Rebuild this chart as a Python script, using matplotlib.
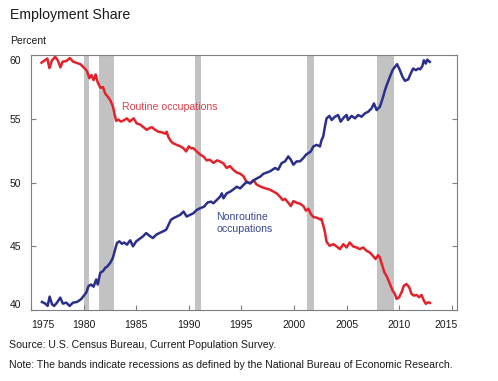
import numpy as np
import matplotlib
matplotlib.use("Agg")
import matplotlib.pyplot as plt
from matplotlib.transforms import ScaledTranslation

plt.rcParams["font.family"] = ["Liberation Sans", "DejaVu Sans"]

# =========================
# data (percent of employment)
# =========================
routine_years = [
    1976.0, 1976.3, 1976.55, 1976.75, 1977.0, 1977.3, 1977.55, 1977.8, 1978.0, 1978.35,
    1978.7, 1979.0, 1979.35, 1979.7, 1980.0, 1980.3, 1980.55, 1980.75, 1980.95, 1981.15,
    1981.35, 1981.6, 1981.85, 1982.05, 1982.3, 1982.55, 1982.8, 1982.95, 1983.1, 1983.3,
    1983.55, 1983.85, 1984.1, 1984.4, 1984.75, 1985.05, 1985.4, 1985.7, 1986.0, 1986.3,
    1986.5, 1986.8, 1987.1, 1987.45, 1987.75, 1987.9, 1988.05, 1988.3, 1988.5, 1988.9,
    1989.2, 1989.5, 1989.75, 1990.0, 1990.2, 1990.45, 1990.75, 1991.1, 1991.4, 1991.7,
    1992.0, 1992.35, 1992.7, 1993.0, 1993.3, 1993.6, 1993.9, 1994.25, 1994.55, 1994.9,
    1995.2, 1995.5, 1995.85, 1996.15, 1996.45, 1996.8, 1997.1, 1997.7, 1998.05, 1998.36,
    1998.67, 1998.93, 1999.15, 1999.46, 1999.7, 1999.94, 2000.26, 2000.57, 2000.9, 2001.14,
    2001.37, 2001.6, 2001.84, 2002.16, 2002.47, 2002.6, 2002.8, 2002.95, 2003.1, 2003.4,
    2003.74, 2004.06, 2004.37, 2004.7, 2005.0, 2005.3, 2005.63, 2005.95, 2006.27, 2006.58,
    2006.9, 2007.2, 2007.5, 2007.75, 2008.0, 2008.16, 2008.4, 2008.6, 2008.87, 2009.12,
    2009.38, 2009.6, 2009.76, 2010.0, 2010.23, 2010.45, 2010.7, 2010.96, 2011.18, 2011.4,
    2011.66, 2011.9, 2012.13, 2012.35, 2012.54, 2012.76, 2012.92,
]
routine_share = [
    59.42, 59.6, 59.75, 59.0, 59.6, 59.88, 59.6, 59.05, 59.5, 59.55,
    59.78, 59.5, 59.4, 59.3, 59.05, 58.8, 58.2, 58.45, 58.05, 58.5,
    57.85, 57.45, 57.5, 57.0, 56.75, 56.45, 55.95, 55.35, 54.85, 54.95,
    54.8, 54.9, 55.05, 54.8, 55.05, 54.65, 54.55, 54.35, 54.15, 54.3,
    54.35, 54.15, 54.0, 53.95, 53.85, 54.0, 53.6, 53.25, 53.1, 52.95,
    52.85, 52.7, 52.45, 52.85, 52.7, 52.7, 52.45, 52.2, 52.05, 51.75,
    51.8, 51.55, 51.75, 51.65, 51.5, 51.15, 51.3, 51.0, 50.8, 50.7,
    50.5, 50.05, 49.95, 50.2, 49.85, 49.7, 49.6, 49.45, 49.3, 49.15,
    48.9, 48.63, 48.73, 48.42, 48.16, 48.55, 48.42, 48.35, 48.16, 47.8,
    47.95, 47.55, 47.3, 47.25, 47.12, 47.17, 46.6, 46.08, 45.35, 45.04,
    45.17, 44.99, 44.78, 45.17, 44.91, 45.3, 44.99, 44.91, 44.78, 44.91,
    44.65, 44.52, 44.26, 44.0, 44.3, 44.13, 43.47, 42.95, 42.56, 42.04,
    41.52, 41.26, 40.87, 41.0, 41.4, 41.91, 42.04, 41.78, 41.26, 41.13,
    41.18, 41.0, 41.18, 40.74, 40.48, 40.61, 40.56,
]

nonroutine_years = [
    1976.04, 1976.36, 1976.58, 1976.77, 1977.0, 1977.2, 1977.47, 1977.78, 1978.03, 1978.35,
    1978.67, 1979.0, 1979.37, 1979.75, 1980.0, 1980.25, 1980.47, 1980.7, 1980.95, 1981.2,
    1981.35, 1981.58, 1981.84, 1982.06, 1982.28, 1982.53, 1982.78, 1983.0, 1983.17, 1983.4,
    1983.64, 1983.86, 1984.12, 1984.43, 1984.7, 1985.0, 1985.3, 1985.64, 1985.95, 1986.26,
    1986.59, 1986.9, 1987.2, 1987.54, 1987.85, 1988.07, 1988.3, 1988.54, 1988.87, 1989.18,
    1989.5, 1989.8, 1990.13, 1990.44, 1990.76, 1991.08, 1991.46, 1991.77, 1992.1, 1992.34,
    1992.66, 1992.98, 1993.14, 1993.3, 1993.6, 1993.93, 1994.24, 1994.56, 1994.88, 1995.2,
    1995.51, 1995.83, 1996.14, 1996.46, 1996.78, 1997.1, 1997.73, 1998.2, 1998.5, 1998.83,
    1999.15, 1999.46, 1999.7, 1999.94, 2000.26, 2000.57, 2000.89, 2001.14, 2001.37, 2001.6,
    2001.84, 2002.16, 2002.47, 2002.63, 2002.78, 2002.94, 2003.1, 2003.37, 2003.58, 2003.9,
    2004.2, 2004.44, 2004.75, 2005.0, 2005.14, 2005.48, 2005.8, 2006.1, 2006.43, 2006.75,
    2007.06, 2007.38, 2007.6, 2007.86, 2008.17, 2008.43, 2008.65, 2008.87, 2009.12, 2009.37,
    2009.6, 2009.8, 2010.07, 2010.32, 2010.55, 2010.86, 2011.1, 2011.33, 2011.6, 2011.8,
    2012.0, 2012.2, 2012.35, 2012.54, 2012.67, 2012.92,
]
nonroutine_share = [
    40.63, 40.5, 40.32, 41.05, 40.45, 40.32, 40.58, 40.97, 40.5, 40.58,
    40.32, 40.58, 40.63, 40.84, 41.1, 41.36, 41.88, 42.0, 41.83, 42.4,
    42.0, 42.92, 43.05, 43.31, 43.44, 43.7, 44.09, 44.74, 45.26, 45.39,
    45.2, 45.3, 45.13, 45.47, 45.0, 45.39, 45.57, 45.78, 46.04, 45.83,
    45.65, 45.91, 46.04, 46.17, 46.3, 46.69, 47.08, 47.21, 47.34, 47.47,
    47.73, 47.34, 47.47, 47.6, 47.86, 47.99, 48.12, 48.43, 48.51, 48.38,
    48.64, 48.9, 49.16, 48.77, 49.16, 49.29, 49.47, 49.68, 49.55, 49.81,
    50.07, 49.94, 50.15, 50.33, 50.46, 50.7, 50.89, 51.15, 51.02, 51.54,
    51.67, 52.06, 51.8, 51.41, 51.67, 51.67, 51.93, 52.19, 52.32, 52.45,
    52.84, 52.97, 52.84, 53.36, 53.62, 54.4, 55.05, 55.24, 54.92, 55.18,
    55.31, 54.79, 55.13, 55.31, 54.92, 55.24, 55.05, 55.31, 55.18, 55.44,
    55.57, 55.83, 56.22, 55.7, 55.96, 56.61, 57.26, 57.78, 58.31, 58.83,
    59.09, 59.3, 58.83, 58.31, 58.0, 58.1, 58.57, 58.96, 58.83, 58.96,
    58.9, 59.14, 59.61, 59.35, 59.66, 59.48,
]

# NBER recessions
recession_start = [1980.0, 1981.5, 1990.55, 2001.2, 2007.92]
recession_end = [1980.55, 1982.9, 1991.2, 2001.9, 2009.5]

x_ticks = [1975, 1980, 1985, 1990, 1995, 2000, 2005, 2010, 2015]
y_ticks = [40, 45, 50, 55, 60]

RED = "#e3222b"
BLUE = "#2b2f8c"
GREY_TXT = "#1a1a1a"

fig = plt.figure(figsize=(4.98, 3.81), dpi=100)
ax = fig.add_axes([31 / 498, 1 - 310 / 381, 426 / 498, 254.7 / 381])

for s, e in zip(recession_start, recession_end):
    ax.axvspan(s, e, color="#c2c2c2", lw=0, zorder=1)

ax.plot(routine_years, routine_share, color=RED, lw=1.8, zorder=3, clip_on=False)
ax.plot(nonroutine_years, nonroutine_share, color=BLUE, lw=1.8, zorder=3, clip_on=False)

ax.text(1983.64, 55.97, "Routine occupations", color="#d9404a",
        fontsize=7.6, ha="left", va="center")
ax.text(1992.6, 46.84, "Nonroutine\noccupations", color="#3b4890",
        fontsize=7.6, ha="left", va="center", linespacing=1.25)

ax.set_xlim(1975, 2015.5)
ax.set_ylim(40, 60)
ax.set_xticks(x_ticks)
ax.set_yticks(y_ticks)

for sp in ax.spines.values():
    sp.set_color("#7f7f7f")
    sp.set_linewidth(0.8)

ax.tick_params(axis="both", direction="in", length=3.5, width=0.8, color="#7f7f7f",
               labelsize=7.5, labelcolor=GREY_TXT, pad=7)
ax.tick_params(axis="y", right=True)


def shift_label(tick, dx_px, dy_px):
    lab = tick.label1
    lab.set_transform(lab.get_transform()
                      + ScaledTranslation(dx_px / 100, dy_px / 100, fig.dpi_scale_trans))


# end labels sit inside the frame, as in the original
xt = ax.xaxis.get_major_ticks()
xt[0].label1.set_horizontalalignment("left")
shift_label(xt[-1], -6, 0)
yt = ax.yaxis.get_major_ticks()
shift_label(yt[0], 0, 6)
shift_label(yt[-1], 0, -5)

fig.text(10 / 498, 1 - 15 / 381, "Employment Share", fontsize=10.2, color=GREY_TXT,
         ha="left", va="center")
fig.text(10 / 498, 1 - 41 / 381, "Percent", fontsize=7.5, color=GREY_TXT,
         ha="left", va="center")
fig.text(9 / 498, 1 - 345 / 381, "Source: U.S. Census Bureau, Current Population Survey.",
         fontsize=7.55, color=GREY_TXT, ha="left", va="center")
fig.text(9 / 498, 1 - 365 / 381,
         "Note: The bands indicate recessions as defined by the National Bureau of Economic Research.",
         fontsize=7.55, color=GREY_TXT, ha="left", va="center")

fig.savefig("out.png", dpi=100)
